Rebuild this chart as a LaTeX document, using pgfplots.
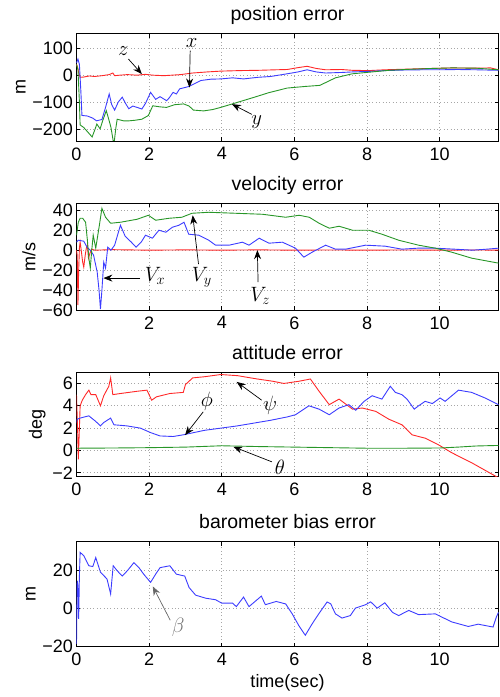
\documentclass[border=0pt]{standalone}
\usepackage{fontspec}
\setmainfont{Liberation Sans}
\usepackage{pgfplots}
\pgfplotsset{compat=1.18}
\usetikzlibrary{arrows.meta}

\definecolor{mblue}{RGB}{60,60,255}
\definecolor{mgreen}{RGB}{40,150,40}
\definecolor{mred}{RGB}{255,40,40}
\newcommand\tickfont{\fontsize{18}{20}\selectfont}
\newcommand\titlefont{\fontsize{19.5}{21}\selectfont}
\newcommand\mathlab{\fontsize{20.74}{22}\selectfont}

\tikzset{annot/.style={-{Stealth[length=9pt,width=7pt]}, line width=0.7pt, black}}
\pgfplotsset{
  panel/.style={
    scale only axis, width=422pt, xmin=0, xmax=11.62,
    axis line style={line width=0.7pt},
    grid=major,
    major grid style={gray!70, dash pattern=on 0.8pt off 2.6pt, line width=0.6pt},
    tick align=inside, major tick length=4pt,
    tick style={black, line width=0.6pt},
    title style={at={(0.5,1)}, anchor=base, yshift=7pt, font=\titlefont},
    ticklabel style={font=\tickfont},
    xticklabel style={yshift=-3pt},
    label style={font=\tickfont},
    xlabel style={yshift=-2pt},
    every axis plot/.append style={line width=0.9pt},
    /pgf/number format/assume math mode=true,
  },
}

\begin{document}
\begin{tikzpicture}
\path[use as bounding box] (0,0) rectangle (500pt,697pt);

% position error
\begin{axis}[panel, at={(76.5pt,556pt)}, anchor=south west, height=107.5pt,
  ymin=-245, ymax=155,
  ytick={-200,-100,0,100}, yticklabels={−200,−100,0,100},
  xtick={0,2,4,6,8,10}, xticklabels={0,2,4,6,8,10},
  title={position error}, ylabel={m}]
\addplot[mred] coordinates {(0,40) (0.03,30) (0.06,10) (0.1,-8) (0.2,-7) (0.35,-3) (0.5,-5) (0.7,-2) (0.9,2) (1.0,8) (1.05,-2) (1.2,0) (1.4,2) (1.67,0) (1.9,3) (2.1,0) (2.4,-2) (2.86,2) (3.2,8) (3.6,12) (3.97,15) (4.5,17) (5.0,18) (5.5,20) (5.8,21) (6.1,28) (6.35,33) (6.6,25) (6.86,20) (7.3,21) (7.6,18) (8.05,17) (8.5,20) (9,22) (9.5,24) (10.35,27) (11,26) (11.4,27) (11.62,20)};
\addplot[mblue] coordinates {(0,45) (0.04,60) (0.08,40) (0.12,-60) (0.15,-150) (0.3,-152) (0.45,-160) (0.55,-170) (0.7,-165) (0.8,-120) (0.9,-70) (0.97,-110) (1.05,-130) (1.15,-100) (1.26,-82) (1.35,-105) (1.44,-125) (1.55,-115) (1.67,-120) (1.8,-126) (1.9,-105) (2.04,-64) (2.18,-90) (2.3,-80) (2.48,-95) (2.55,-85) (2.66,-64) (2.75,-70) (2.84,-51) (3.1,-42) (3.42,-20) (3.7,-15) (3.97,-14) (4.3,-10) (4.6,-14) (5.0,-8) (5.34,-5) (5.8,5) (6.1,12) (6.35,20) (6.6,12) (6.86,8) (7.3,10) (7.6,12) (8.05,14) (8.5,17) (9,19) (9.5,20) (10,20) (10.5,21) (11,20) (11.62,18)};
\addplot[mgreen] coordinates {(0,40) (0.04,20) (0.08,-100) (0.1,-185) (0.2,-195) (0.3,-210) (0.43,-230) (0.5,-205) (0.56,-182) (0.65,-200) (0.72,-170) (0.82,-132) (0.9,-170) (0.95,-195) (1.03,-260) (1.08,-200) (1.12,-164) (1.3,-170) (1.44,-170) (1.6,-168) (1.8,-164) (1.98,-150) (2.1,-114) (2.3,-118) (2.48,-120) (2.7,-110) (2.95,-107) (3.1,-115) (3.22,-130) (3.5,-133) (3.75,-128) (3.97,-120) (4.34,-105) (4.9,-82) (5.3,-65) (5.8,-48) (6.3,-42) (6.7,-38) (6.9,-25) (7.13,-10) (7.59,5) (8.14,12) (8.6,18) (9.2,22) (9.8,25) (10.35,27) (11,26) (11.62,20)};
\draw[annot] (axis cs:1.43,60) -- (axis cs:1.80,4);
\node[font=\mathlab] at (axis cs:1.29,91) {$z$};
\draw[annot] (axis cs:3.13,91) -- (axis cs:3.11,-46);
\node[font=\mathlab] at (axis cs:3.17,118) {$x$};
\draw[annot] (axis cs:4.83,-146) -- (axis cs:4.28,-108);
\node[font=\mathlab] at (axis cs:4.96,-174) {$y$};
\end{axis}

% velocity error
\begin{axis}[panel, at={(76.5pt,387pt)}, anchor=south west, height=106.7pt,
  ymin=-60, ymax=47,
  ytick={-60,-40,-20,0,20,40}, yticklabels={−60,−40,−20,0,20,40},
  xtick={2,4,6,8,10}, xticklabels={2,4,6,8,10},
  title={velocity error}, ylabel={m/s}]
\addplot[mred] coordinates {(0,0) (0.02,-5) (0.04,-55) (0.06,-20) (0.08,2) (0.1,8) (0.13,0) (0.17,-12) (0.2,-17) (0.24,-5) (0.27,2) (0.3,5) (0.33,-8) (0.37,-3) (0.42,1) (0.5,0) (1,0.5) (2,0) (3,0.3) (4,0) (5,0.3) (6,0) (7,0.2) (8,0) (9,0.2) (10,0) (11,0.2) (11.62,0)};
\addplot[mblue] coordinates {(0,8) (0.05,10) (0.2,9) (0.29,3) (0.38,0) (0.47,-5) (0.57,-22) (0.62,-40) (0.66,-59) (0.7,-40) (0.75,-12) (0.8,-18) (0.86,3) (0.95,0) (1.05,5) (1.21,25) (1.34,14) (1.51,8) (1.64,3) (1.78,8) (1.9,15) (2.09,12) (2.27,20) (2.46,18) (2.64,23) (2.82,25) (2.96,28) (3.09,16) (3.37,15) (3.64,10) (3.83,5) (4.2,5) (4.57,8) (4.75,5) (5.03,12) (5.3,7) (5.67,8) (6.03,2) (6.26,-7) (6.49,-2) (6.86,5) (7.13,1) (7.41,1) (7.96,5) (8.5,4) (8.96,1) (9.4,2) (9.88,2) (10.4,1) (10.9,0) (11.3,1) (11.62,2)};
\addplot[mgreen] coordinates {(0,15) (0.05,28) (0.1,32) (0.17,32) (0.25,28) (0.3,10) (0.34,-8) (0.38,-18) (0.42,0) (0.46,15) (0.53,2) (0.63,25) (0.7,42) (0.8,33) (0.94,27) (1.21,28) (1.67,31) (1.98,35) (2.18,30) (2.55,32) (2.9,33) (3.18,37) (3.64,38) (4.38,37) (5.12,36) (5.76,33) (6.13,35) (6.41,33) (6.68,27) (6.96,22) (7.23,24) (7.6,20) (8.05,20) (8.41,16) (8.87,10) (9.42,5) (9.88,2) (10.33,-2) (10.88,-8) (11.62,-13)};
\draw[annot] (axis cs:1.75,-28) -- (axis cs:0.74,-28);
\node[font=\mathlab] at (axis cs:2.16,-25.5) {$V_x$};
\draw[annot] (axis cs:3.36,-14) -- (axis cs:3.2,35);
\node[font=\mathlab] at (axis cs:3.45,-27) {$V_y$};
\draw[annot] (axis cs:5.0,-32) -- (axis cs:4.98,0);
\node[font=\mathlab] at (axis cs:5.06,-45.6) {$V_z$};
\end{axis}

% attitude error
\begin{axis}[panel, at={(76.5pt,220.3pt)}, anchor=south west, height=104.4pt,
  ymin=-2.35, ymax=7,
  ytick={-2,0,2,4,6}, yticklabels={−2,0,2,4,6},
  xtick={0,2,4,6,8,10}, xticklabels={0,2,4,6,8,10},
  title={attitude error}, ylabel={deg}]
\addplot[mred] coordinates {(0,5) (0.03,2) (0.05,-0.8) (0.08,2) (0.1,4) (0.16,4.5) (0.25,5) (0.34,5.4) (0.4,5) (0.53,5) (0.66,4) (0.75,4.9) (0.89,5.75) (0.94,6.5) (1.0,5) (1.21,5.1) (1.67,5.3) (1.94,5.4) (2.07,4.5) (2.2,4.8) (2.57,5.1) (2.94,5.2) (3.0,5.9) (3.2,6.5) (3.52,6.6) (3.97,6.8) (4.43,6.7) (4.98,6.4) (5.4,6.2) (5.71,6) (6.13,6.2) (6.44,6.4) (6.68,5.3) (6.96,4.1) (7.23,4.6) (7.6,3.7) (7.87,3.8) (8.24,3.5) (8.6,2.8) (8.96,2.3) (9.24,1.4) (9.6,1.1) (9.97,0.5) (10.33,-0.2) (10.88,-1.1) (11.62,-2.45)};
\addplot[mblue] coordinates {(0,2.5) (0.02,2.8) (0.1,2.9) (0.34,3.1) (0.53,2.6) (0.66,2.2) (0.75,2.5) (0.94,2.9) (1.03,2.3) (1.39,2.2) (1.76,2.0) (2.04,1.6) (2.3,1.3) (2.66,1.25) (2.94,1.4) (3.52,1.8) (4.43,2.2) (5.34,2.7) (5.8,3.0) (6.03,3.2) (6.4,4.0) (6.68,3.7) (6.96,3.2) (7.23,3.8) (7.5,4.1) (7.69,3.6) (7.92,4.4) (8.14,4.9) (8.41,4.6) (8.64,5.75) (8.78,5.2) (8.96,5) (9.1,4.6) (9.3,3.7) (9.42,4.0) (9.6,4.4) (9.8,4.2) (10.01,4.7) (10.15,4.4) (10.52,5.4) (10.88,5.2) (11.25,4.7) (11.62,4.1)};
\addplot[mgreen] coordinates {(0,0.2) (1,0.22) (2,0.25) (3,0.3) (4,0.42) (5,0.35) (6,0.3) (7,0.25) (8,0.2) (9,0.2) (10,0.22) (10.5,0.3) (11,0.4) (11.62,0.45)};
\draw[annot] (axis cs:5.1,4.5) -- (axis cs:4.41,6.14);
\node[font=\mathlab] at (axis cs:5.33,4.06) {$\psi$};
\draw[annot] (axis cs:3.49,3.46) -- (axis cs:2.99,1.37);
\node[font=\mathlab] at (axis cs:3.59,4.4) {$\phi$};
\draw[annot] (axis cs:5.38,-1.02) -- (axis cs:4.32,0.33);
\node[font=\mathlab] at (axis cs:5.6,-1.47) {$\theta$};
\end{axis}

% barometer bias error
\begin{axis}[panel, at={(76.5pt,50.3pt)}, anchor=south west, height=105pt,
  ymin=-20, ymax=35,
  ytick={-20,0,20}, yticklabels={−20,0,20},
  xtick={0,2,4,6,8,10}, xticklabels={0,2,4,6,8,10},
  title={barometer bias error}, ylabel={m}, xlabel={time(sec)}]
\addplot[mblue] coordinates {(0,-18.5) (0.02,14.6) (0.04,12) (0.06,-5.4) (0.08,17) (0.1,29.4) (0.2,27.7) (0.34,22.4) (0.45,22) (0.53,26.7) (0.66,19) (0.84,15.5) (0.94,7.6) (1.01,22.4) (1.12,19.8) (1.26,17) (1.4,19.8) (1.58,24) (1.72,21.4) (1.85,18) (2.04,13.7) (2.18,18) (2.3,21.4) (2.57,22.4) (2.75,18) (2.98,17) (3.1,11) (3.28,7) (3.56,5.4) (3.83,4.6) (4.0,2.8) (4.3,2.8) (4.4,1) (4.6,6) (4.75,1) (5.09,6.5) (5.2,2) (5.5,3.7) (5.76,2.4) (5.94,-2.8) (6.12,-8.9) (6.3,-14) (6.49,-8) (6.67,-2.8) (6.9,3.4) (7.0,2.5) (7.13,-2.8) (7.31,-5) (7.54,-3.7) (7.68,0.2) (7.96,2) (8.1,3.5) (8.28,0.2) (8.49,3) (8.7,-2) (8.87,-3.7) (9.15,-1) (9.42,-3.2) (9.88,-2.8) (10.33,-7) (10.79,-9.4) (11.06,-8.2) (11.47,-9.7) (11.56,-4.5) (11.62,-2)};
\draw[annot, gray!80!black] (axis cs:2.58,-6.1) -- (axis cs:2.1,11.6);
\node[font=\mathlab, text=gray!90!black] at (axis cs:2.8,-9.6) {$\beta$};
\end{axis}
\end{tikzpicture}
\end{document}
